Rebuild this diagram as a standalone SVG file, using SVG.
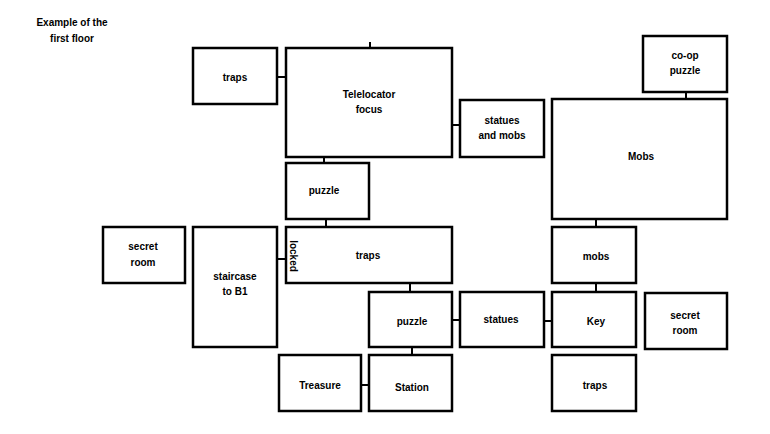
<svg xmlns="http://www.w3.org/2000/svg" width="770" height="434" viewBox="0 0 770 434">
<style>
rect{fill:#fff;stroke:#000;stroke-width:2.5}
line{stroke:#000;stroke-width:2}
text{font-family:"Liberation Sans",Arial,sans-serif;font-weight:bold;font-size:10px;text-anchor:middle;fill:#000}
</style>
<rect x="0" y="0" width="770" height="434" style="stroke:none"/>
<text x="72" y="26">Example of the</text>
<text x="72" y="42">first floor</text>
<g id="connectors">
<line x1="370" y1="42" x2="370" y2="48"/>
<line x1="277" y1="77" x2="286" y2="77"/>
<line x1="452" y1="125" x2="460" y2="125"/>
<line x1="686" y1="92" x2="686" y2="99"/>
<line x1="324" y1="157" x2="324" y2="163"/>
<line x1="326" y1="219" x2="326" y2="227"/>
<line x1="596" y1="219" x2="596" y2="227"/>
<line x1="277" y1="259" x2="286" y2="259"/>
<line x1="410" y1="283" x2="410" y2="292"/>
<line x1="596" y1="283" x2="596" y2="292"/>
<line x1="452" y1="320" x2="460" y2="320"/>
<line x1="544" y1="321" x2="552" y2="321"/>
<line x1="412" y1="347" x2="412" y2="355"/>
<line x1="361" y1="385" x2="369" y2="385"/>
</g>
<g id="n-traps1"><rect x="193" y="48" width="84" height="56"/><text x="235" y="81">traps</text></g>
<g id="n-tele"><rect x="286" y="48" width="166" height="109"/><text x="369" y="98">Telelocator</text><text x="369" y="113">focus</text></g>
<g id="n-statmobs"><rect x="460" y="100" width="84" height="57"/><text x="502" y="124">statues</text><text x="502" y="139">and mobs</text></g>
<g id="n-coop"><rect x="643" y="36" width="84" height="56"/><text x="685" y="59">co-op</text><text x="685" y="74">puzzle</text></g>
<g id="n-mobs"><rect x="552" y="99" width="175" height="120"/><text x="641" y="160">Mobs</text></g>
<g id="n-puzzle1"><rect x="286" y="163" width="83" height="56"/><text x="324" y="194">puzzle</text></g>
<g id="n-secret1"><rect x="103" y="227" width="82" height="56"/><text x="143" y="250">secret</text><text x="143" y="266">room</text></g>
<g id="n-stair"><rect x="193" y="227" width="84" height="120"/><text x="235" y="280">staircase</text><text x="235" y="295">to B1</text></g>
<g id="n-traps2"><rect x="286" y="227" width="166" height="56"/><text x="368" y="259">traps</text><text transform="translate(290,256) rotate(90)">locked</text></g>
<g id="n-mobs2"><rect x="552" y="227" width="84" height="56"/><text x="596" y="260">mobs</text></g>
<g id="n-puzzle2"><rect x="369" y="292" width="83" height="55"/><text x="412" y="325">puzzle</text></g>
<g id="n-statues"><rect x="460" y="292" width="84" height="55"/><text x="501" y="323">statues</text></g>
<g id="n-key"><rect x="552" y="292" width="84" height="55"/><text x="596" y="325">Key</text></g>
<g id="n-secret2"><rect x="645" y="293" width="82" height="56"/><text x="685" y="319">secret</text><text x="685" y="334">room</text></g>
<g id="n-treasure"><rect x="279" y="355" width="82" height="56"/><text x="320" y="389">Treasure</text></g>
<g id="n-station"><rect x="369" y="355" width="83" height="56"/><text x="412" y="391">Station</text></g>
<g id="n-traps3"><rect x="552" y="355" width="84" height="56"/><text x="595" y="389">traps</text></g>
</svg>
